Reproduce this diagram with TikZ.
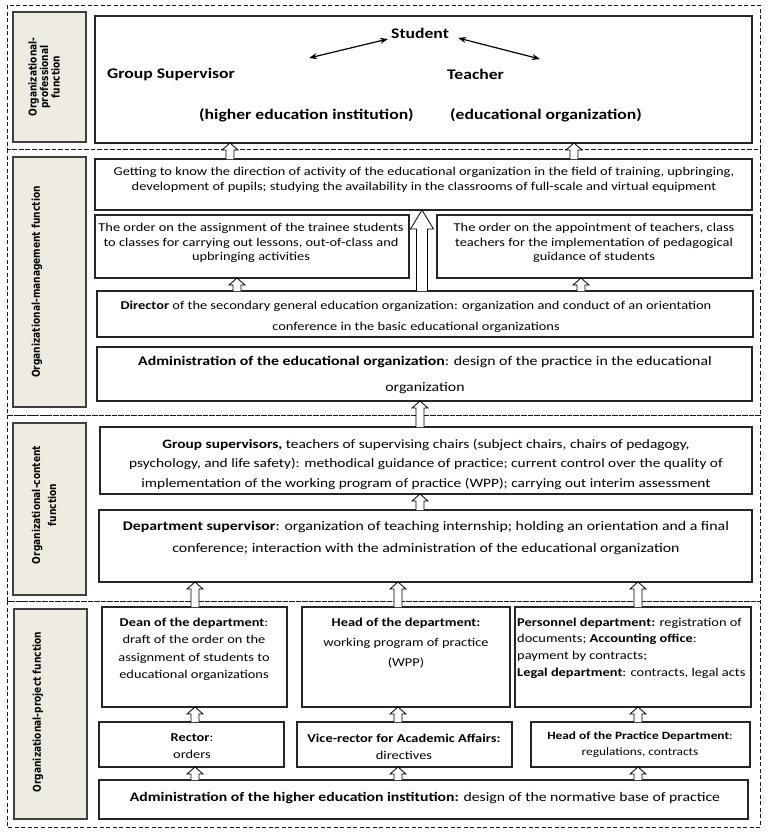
\documentclass[tikz,border=0pt]{standalone}
\usepackage{fontspec}
\setmainfont{Carlito}[FakeStretch=1.2]
\newfontfamily\labfont{DejaVu Sans}[FakeStretch=0.84]
\usetikzlibrary{calc,arrows.meta}
\definecolor{labbg}{HTML}{EEECE1}
\newcommand\fsz[2]{\fontsize{#1}{#2}\selectfont}
\tikzset{
  box/.style={draw=black!85, line width=1.2pt, fill=white, inner sep=0pt, outer sep=0pt},
  lab/.style={draw=black!75, line width=1.2pt, fill=labbg, inner sep=0pt, outer sep=0pt},
  sect/.style={draw=black!90, line width=0.8pt, dash pattern=on 4pt off 2.5pt},
  txt/.style={align=center, inner sep=0pt},
  labtxt/.style={align=center, inner sep=0pt, rotate=90, font=\labfont\bfseries\fsz{10.8}{11.5}},
  harr/.style={draw=black, line width=0.8pt, fill=white},
  dbl/.style={line width=1.2pt, {Stealth[length=8pt,width=6pt]}-{Stealth[length=8pt,width=6pt]}},
  t1/.style={inner sep=0pt, font=\bfseries\fsz{14.7}{18}}
}
% box by corners: name, x1, y1, x2, y2
\newcommand\bx[5]{\node[box, minimum width={#4pt-#2pt}, minimum height={#5pt-#3pt}] (#1) at ({(#2+#4)/2},{(#3+#5)/2}) {};}
\newcommand\lb[5]{\node[lab, minimum width={#4pt-#2pt}, minimum height={#5pt-#3pt}] (#1) at ({(#2+#4)/2},{(#3+#5)/2}) {};}
% hollow arrow: x, from node anchor, to node anchor, shaft half, head half, head length
\newcommand\harrow[6]{\draw[harr] ($(#2 -| #1,0)+(-#4,0)$) -- ($(#3 -| #1,0)+(-#4,#6)$) -- ($(#3 -| #1,0)+(-#5,#6)$) -- (#3 -| #1,0) -- ($(#3 -| #1,0)+(#5,#6)$) -- ($(#3 -| #1,0)+(#4,#6)$) -- ($(#2 -| #1,0)+(#4,0)$);}
\newcommand\sarrow[3]{\harrow{#1}{#2}{#3}{4}{8}{7}}
\begin{document}
\begin{tikzpicture}[x=1pt,y=-1pt]
\useasboundingbox[fill=white] (0,0) rectangle (768,836);
% sections
\draw[sect] (7,5) rectangle (760,149);
\draw[sect] (7,149) rectangle (760,415);
\draw[sect] (7,415) rectangle (760,601);
\draw[sect] (7,601) rectangle (760,827);
% labels
\lb{L1}{13}{12}{86}{142}
\lb{L2}{13}{157}{86}{407}
\lb{L3}{13}{423}{86}{595}
\lb{L4}{14}{609}{87}{819}
\node[labtxt] (L1t) at (44,77) {Organizational-\\professional\\function};
\node[labtxt] (L2t) at (37,282) {Organizational-management function};
\node[labtxt, font=\labfont\bfseries\fsz{10.8}{16}] (L3t) at (44,505) {Organizational-content\\function};
\node[labtxt] (L4t) at (38,712) {Organizational-project function};
% boxes
\bx{B1}{95}{16}{752}{143}
\bx{B2}{95}{159}{752}{210}
\bx{B3}{95}{215}{409}{278}
\bx{B4}{437}{215}{752}{278}
\bx{B5}{97}{291}{753}{337}
\bx{B6}{97}{347}{752}{401}
\bx{B7}{100}{427}{752}{494}
\bx{B8}{99}{510}{752}{582}
\bx{B9}{102}{607}{287}{707}
\bx{B10}{302}{607}{510}{707}
\bx{B11}{515}{607}{751}{707}
\bx{B12}{99}{722}{284}{767}
\bx{B13}{297}{722}{512}{767}
\bx{B14}{531}{722}{750}{767}
\bx{B15}{99}{780}{748}{819}
% top section texts
\node[t1] (stu) at (420,33) {Student};
\node[t1, anchor=west] (gsup) at (107,74) {Group Supervisor};
\node[t1, anchor=west] (tea) at (447,74) {Teacher};
\node[t1, anchor=west] (hei) at (199,115) {(higher education institution)};
\node[t1, anchor=west] (eo) at (450,115) {(educational organization)};
\coordinate (gsend) at (309,58);
\coordinate (teend) at (540,59);
\draw[dbl] (gsend) -- ($(stu.west)+(-3,6)$);
\draw[dbl] ($(stu.east)+(9,5)$) -- (teend);
% box texts
\node[txt, font=\fsz{12}{14.5}] (B2t) at (424,180) {Getting to know the direction of activity of the educational organization in the field of training, upbringing,\\development of pupils; studying the availability in the classrooms of full-scale and virtual equipment};
\node[txt, font=\fsz{12}{14.5}] (B3t) at (251,243) {The order on the assignment of the trainee students\\to classes for carrying out lessons, out-of-class and\\upbringing activities};
\node[txt, font=\fsz{12}{14.5}] (B4t) at (594,243) {The order on the appointment of teachers, class\\teachers for the implementation of pedagogical\\guidance of students};
\node[txt, font=\fsz{12}{21}] (B5t) at (416,317) {\textbf{Director} of the secondary general education organization: organization and conduct of an orientation\\conference in the basic educational organizations};
\node[txt, font=\fsz{13.2}{26}] (B6t) at (425,375) {\textbf{Administration of the educational organization}: design of the practice in the educational\\organization};
\node[txt, font=\fsz{12.8}{19.5}] (B7t) at (426,464) {\textbf{Group supervisors,} teachers of supervising chairs (subject chairs, chairs of pedagogy,\\psychology, and life safety): methodical guidance of practice; current control over the quality of\\implementation of the working program of practice (WPP); carrying out interim assessment};
\node[txt, font=\fsz{13.2}{22}] (B8t) at (426,538) {\textbf{Department supervisor}: organization of teaching internship; holding an orientation and a final\\conference; interaction with the administration of the educational organization};
\node[txt, font=\fsz{12}{17.5}] (B9t) at (194,649.5) {\textbf{Dean of the department}:\\draft of the order on the\\assignment of students to\\educational organizations};
\node[txt, font=\fsz{12}{20}] (B10t) at (406,643) {\textbf{Head of the department:}\\working program of practice\\(WPP)};
\node[txt, align=left, anchor=west, font=\fsz{12}{16.7}] (B11t) at (517,648) {\textbf{Personnel department:} registration of\\documents; \textbf{Accounting office}:\\payment by contracts;\\\textbf{Legal department}: contracts, legal acts};
\node[txt, font=\fsz{12}{17}] (B12t) at (192,746.5) {\textbf{Rector}:\\orders};
\node[txt, font=\fsz{12}{17}] (B13t) at (404,746.5) {\textbf{Vice-rector for Academic Affairs:}\\directives};
\node[txt, font=\fsz{11.1}{16}] (B14t) at (640,745) {\textbf{Head of the Practice Department}:\\regulations, contracts};
\node[txt, font=\fsz{13.1}{16}] (B15t) at (425,798) {\textbf{Administration of the higher education institution:} design of the normative base of practice};
% hollow arrows
\sarrow{230}{B2.north}{B1.south}
\sarrow{574}{B2.north}{B1.south}
\sarrow{237}{B5.north}{B3.south}
\sarrow{581}{B5.north}{B4.south}
\harrow{422}{B5.north}{B2.south}{5.5}{11.5}{19}
\sarrow{420}{B7.north}{B6.south}
\sarrow{420}{B8.north}{B7.south}
\sarrow{195}{B9.north}{B8.south}
\sarrow{398}{B10.north}{B8.south}
\sarrow{638}{B11.north}{B8.south}
\sarrow{195}{B12.north}{B9.south}
\sarrow{398}{B13.north}{B10.south}
\sarrow{638}{B14.north}{B11.south}
\sarrow{195}{B15.north}{B12.south}
\sarrow{398}{B15.north}{B13.south}
\sarrow{638}{B15.north}{B14.south}
\end{tikzpicture}
\end{document}
